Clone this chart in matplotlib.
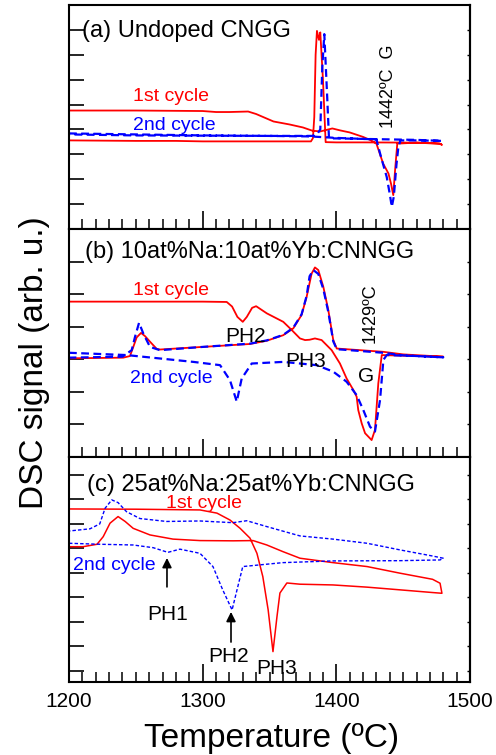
import matplotlib.pyplot as plt

plt.rcParams['font.family'] = ['Liberation Sans', 'DejaVu Sans']

# ---- (a) Undoped CNGG ----
a1_T = [1200, 1250, 1300, 1310, 1320, 1334, 1340, 1353, 1365, 1375, 1382, 1388, 1397, 1403, 1410,
        1420, 1426, 1430, 1435, 1439, 1441, 1442.6, 1444, 1445.6, 1460, 1477, 1479,
        1478, 1460, 1420, 1400, 1392, 1390, 1388, 1387, 1385.5, 1384.5, 1383.5, 1382.5, 1381,
        1340, 1300, 1280, 1250, 1200]
a1_S = [4.76, 4.76, 4.74, 4.70, 4.70, 4.72, 4.62, 4.32, 4.20, 4.08, 3.95, 3.92, 4.04, 3.96, 3.88,
        3.70, 3.56, 3.43, 2.63, 2.23, 1.80, 1.36, 2.40, 3.43, 3.47, 3.44, 3.38,
        3.42, 3.47, 3.48, 3.48, 3.49, 6.00, 7.90, 7.60, 7.96, 7.00, 4.50, 3.65, 3.52,
        3.52, 3.52, 3.54, 3.54, 3.56]
a2_T = [1200, 1250, 1300, 1350, 1380, 1400, 1420, 1430, 1432.7, 1435, 1437.7, 1440, 1441.5, 1443,
        1445, 1446.4, 1448, 1460, 1479,
        1479, 1460, 1420, 1400, 1394.5, 1393, 1391, 1389.5, 1388, 1386, 1382, 1350, 1300, 1250, 1200]
a2_S = [3.84, 3.80, 3.76, 3.74, 3.72, 3.66, 3.62, 3.60, 3.04, 2.60, 2.09, 1.40, 0.89, 1.30,
        2.60, 3.29, 3.56, 3.56, 3.54,
        3.54, 3.58, 3.62, 3.64, 3.64, 5.50, 7.83, 6.50, 4.00, 3.84, 3.74, 3.74, 3.75, 3.76, 3.80]

# ---- (b) 10at%Na:10at%Yb:CNNGG ----
b1_T = [1200, 1250, 1300, 1318, 1322, 1326, 1330, 1333, 1337, 1340, 1348, 1360.3, 1366.6, 1372.8,
        1376.6, 1380, 1384, 1389, 1396.5, 1402.7, 1407.7, 1412.7, 1415.2, 1416.4, 1419, 1421.5,
        1426.4, 1428.9, 1431.4, 1434, 1450, 1470, 1480,
        1480, 1450, 1435, 1400.3, 1397.7, 1394, 1390.3, 1386.5, 1384, 1381.5, 1377.8, 1374,
        1367.8, 1360.3, 1348, 1335.4, 1300, 1268, 1265.6, 1260.6, 1256.9, 1253.9, 1250.6, 1248.1,
        1245.6, 1240.6, 1200]
b1_S = [4.77, 4.77, 4.77, 4.76, 4.62, 4.30, 4.15, 4.30, 4.58, 4.63, 4.41, 4.15, 3.90, 3.64,
        3.59, 3.60, 3.64, 3.59, 3.28, 2.87, 2.41, 2.06, 1.85, 1.44, 1.03, 0.73,
        0.52, 0.83, 2.26, 3.13, 3.11, 3.09, 3.08,
        3.08, 3.15, 3.23, 3.33, 3.59, 4.51, 5.22, 5.74, 5.82, 5.63, 4.92, 4.36,
        3.95, 3.74, 3.57, 3.47, 3.38, 3.30, 3.32, 3.54, 3.71, 3.81, 3.67, 3.38,
        3.10, 3.05, 3.03]
b2_T = [1200, 1243, 1293, 1313, 1320.4, 1325.5, 1329.2, 1336.7, 1360.3, 1385.3, 1397.7, 1407.7,
        1415.2, 1420.2, 1425.2, 1428.9, 1432.7, 1435.2, 1437.7, 1460, 1480,
        1480, 1450, 1435, 1400.3, 1397.7, 1394, 1390.3, 1386.5, 1382.8, 1380, 1377.8, 1374,
        1367.8, 1360.3, 1348, 1335.4, 1300, 1268, 1260.6, 1255.6, 1252.4, 1249.4, 1246.9,
        1240, 1200]
b2_S = [3.20, 3.13, 2.92, 2.82, 2.36, 1.70, 2.41, 2.87, 2.92, 2.82, 2.62, 2.31,
        1.90, 1.44, 0.93, 0.78, 1.75, 2.98, 3.13, 3.10, 3.06,
        3.06, 3.12, 3.20, 3.31, 3.55, 4.45, 5.15, 5.62, 5.74, 5.55, 4.95, 4.38,
        3.97, 3.75, 3.58, 3.48, 3.38, 3.28, 3.38, 3.79, 4.12, 3.69, 3.28,
        3.08, 3.05]

# ---- (c) 25at%Na:25at%Yb:CNNGG ----
c1_T = [1200, 1250, 1298, 1310.7, 1320.4, 1328, 1335.4, 1340.6, 1345, 1349, 1352.6, 1355.6,
        1357.8, 1363, 1372.8, 1397.5, 1423, 1447.6, 1472, 1479,
        1477.6, 1472, 1447.6, 1423, 1397.5, 1372.8, 1360, 1348, 1337.7, 1322.7, 1298, 1277.8,
        1260.6, 1248, 1242, 1236.7, 1230.7, 1225.6, 1221, 1210.5, 1200]
c1_S = [6.61, 6.60, 6.57, 6.44, 6.16, 5.82, 5.42, 4.80, 3.85, 2.49, 0.79, 2.22,
        3.18, 3.59, 3.54, 3.51, 3.42, 3.31, 3.20, 3.17,
        3.58, 3.74, 3.99, 4.26, 4.42, 4.60, 4.87, 5.14, 5.32, 5.31, 5.32, 5.38,
        5.55, 5.82, 6.10, 6.30, 6.03, 5.48, 5.17, 5.07, 5.07]
c2_T = [1200, 1223, 1248, 1263, 1274, 1283, 1298, 1307.7, 1315, 1322, 1325.7, 1330, 1343, 1360,
        1397.5, 1447.6, 1477.6, 1480,
        1472, 1447.6, 1423, 1397.5, 1372.8, 1348, 1333, 1322.7, 1298, 1273, 1253, 1243, 1236.7,
        1232, 1227, 1223, 1215.7, 1200]
c2_S = [5.21, 5.17, 5.14, 5.03, 4.84, 4.97, 4.80, 4.26, 3.31, 2.49, 3.31, 4.26, 4.33, 4.42,
        4.49, 4.50, 4.53, 4.60,
        4.69, 4.94, 5.21, 5.38, 5.51, 5.89, 6.13, 6.05, 6.12, 6.10, 6.22, 6.50, 6.87,
        6.98, 6.64, 6.00, 5.80, 5.71]

red = '#ff0000'
blue = '#0000ff'

fig = plt.figure(figsize=(4.96, 7.55), dpi=100)
left, width = 69 / 496, 401 / 496
ax_a = fig.add_axes([left, 1 - 229 / 755, width, 224 / 755])
ax_b = fig.add_axes([left, 1 - 457 / 755, width, 228 / 755])
ax_c = fig.add_axes([left, 1 - 682 / 755, width, 225 / 755])

ax_a.plot(a1_T, a1_S, color=red, lw=1.3)
ax_a.plot(a2_T, a2_S, color=blue, lw=1.6, ls=(0, (3.5, 2)))
ax_b.plot(b1_T, b1_S, color=red, lw=1.3)
ax_b.plot(b2_T, b2_S, color=blue, lw=1.6, ls=(0, (3.5, 2)))
ax_c.plot(c1_T, c1_S, color=red, lw=1.1)
ax_c.plot(c2_T, c2_S, color=blue, lw=1.0, ls=(0, (2.5, 1.5)))

ax_a.set_ylim(0, 9)
ax_a.set_yticks(range(1, 9))
ax_b.set_ylim(0, 7)
ax_b.set_yticks(range(1, 7))
ax_c.set_ylim(-0.45, 8.73)
ax_c.set_yticks(range(0, 9))

for ax in (ax_a, ax_b, ax_c):
    ax.set_xlim(1200, 1500)
    ax.set_xticks([1200, 1300, 1400, 1500])
    ax.set_xticks(range(1200, 1501, 10), minor=True)
    ax.tick_params(axis='x', which='major', direction='in', length=13, width=1.2,
                   labelsize=15, pad=7, top=False)
    ax.tick_params(axis='x', which='minor', direction='in', length=7, width=1.1, top=False)
    ax.tick_params(axis='y', which='major', direction='in', length=11, width=1.2,
                   labelleft=False)
    # short marks on the right-hand frame
    sec = ax.secondary_yaxis('right')
    sec.set_yticks(ax.get_yticks())
    sec.tick_params(direction='in', length=2, width=1.0, labelright=False)
    sec.spines['right'].set_linewidth(1.5)
    for s in ax.spines.values():
        s.set_linewidth(1.5)
ax_a.tick_params(labelbottom=False)
ax_b.tick_params(labelbottom=False)

# labels, panel a
ax_a.text(1209.7, 7.72, '(a) Undoped CNGG', fontsize=17, va='baseline')
ax_a.text(1247.9, 5.16, '1st cycle', fontsize=14, color=red, va='baseline')
ax_a.text(1247.9, 3.96, '2nd cycle', fontsize=14, color=blue, va='baseline')
ax_a.text(1439.4, 4.04, '1442ºC  G', fontsize=13, rotation=90, ha='center', va='bottom')

# labels, panel b
ax_b.text(1212, 6.10, '(b) 10at%Na:10at%Yb:CNNGG', fontsize=17, va='baseline')
ax_b.text(1247.9, 4.97, '1st cycle', fontsize=14, color=red, va='baseline')
ax_b.text(1245.6, 2.27, '2nd cycle', fontsize=14, color=blue, va='baseline')
ax_b.text(1316.7, 3.53, 'PH2', fontsize=15, va='baseline')
ax_b.text(1361.6, 2.76, 'PH3', fontsize=15, va='baseline')
ax_b.text(1416.2, 2.30, 'G', fontsize=15, va='baseline')
ax_b.text(1425.2, 3.50, '1429ºC', fontsize=13, rotation=90, ha='center', va='bottom')

# labels, panel c
ax_c.text(1213.5, 7.35, '(c) 25at%Na:25at%Yb:CNNGG', fontsize=17, va='baseline')
ax_c.text(1272.6, 6.65, '1st cycle', fontsize=14, color=red, va='baseline')
ax_c.text(1203, 4.12, '2nd cycle', fontsize=14, color=blue, va='baseline')
ax_c.text(1258.4, 2.08, 'PH1', fontsize=15, va='baseline')
ax_c.text(1304, 0.37, 'PH2', fontsize=15, va='baseline')
ax_c.text(1339.9, -0.12, 'PH3', fontsize=15, va='baseline')
arrow = dict(arrowstyle='-|>', color='black', lw=1.2, mutation_scale=14, shrinkA=0, shrinkB=0)
ax_c.annotate('', xy=(1273.3, 4.61), xytext=(1273.3, 3.43), arrowprops=arrow)
ax_c.annotate('', xy=(1321.2, 2.41), xytext=(1321.2, 1.18), arrowprops=arrow)

fig.text(35 / 496, 1 - 363 / 755, 'DSC signal (arb. u.)', fontsize=24, rotation=90,
         ha='center', va='center')
fig.text(272 / 496, 1 - 747 / 755, 'Temperature (ºC)', fontsize=24, ha='center', va='baseline')

plt.savefig('out.png', dpi=100)
